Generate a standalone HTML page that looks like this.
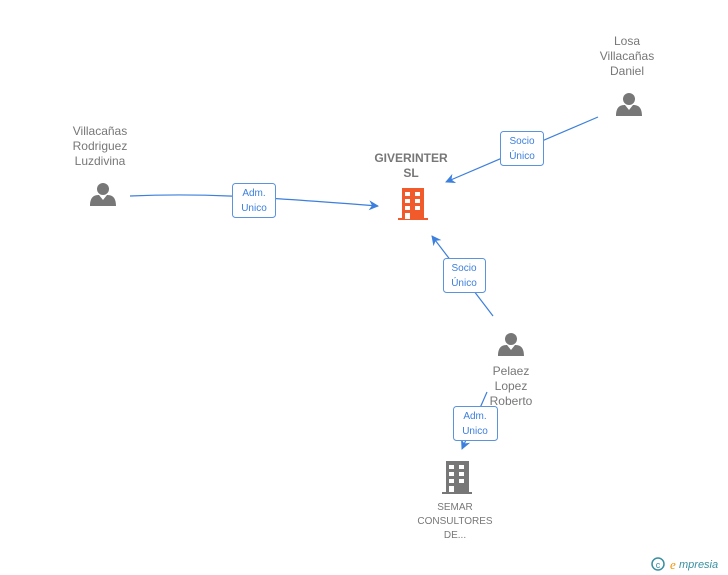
<!DOCTYPE html>
<html><head><style>
body{margin:0;width:728px;height:575px;background:#fff;overflow:hidden;font-family:"Liberation Sans",sans-serif}
.t{position:absolute;color:#777;font-size:12px;text-align:center;line-height:15px}
</style></head><body>
<svg width="728" height="575" style="position:absolute;left:0;top:0">
<defs>
<marker id="a" markerWidth="10" markerHeight="10" refX="9" refY="5" orient="auto" markerUnits="userSpaceOnUse"><path d="M0,0 L10,5 L0,10 L3,5z" fill="#3c7fdc"/></marker>
<g id="p"><circle cx="0" cy="-8" r="6" fill="#777"/><path d="M-13,9 C-13,-1 -8,-2 -4,-2 L0,3 L4,-2 C8,-2 13,-1 13,9z" fill="#777"/></g>
</defs>
<g stroke="#3c7fdc" stroke-width="1.2" fill="none">
<path d="M130,196 C200,193 250,196 378,206" marker-end="url(#a)"/>
<path d="M598,117 L446,182" marker-end="url(#a)"/>
<path d="M493,316 L432,236" marker-end="url(#a)"/>
<path d="M487,392 L462,449" marker-end="url(#a)"/>
</g>
<use href="#p" x="103" y="197"/>
<use href="#p" x="629" y="107"/>
<use href="#p" x="511" y="347"/>
<g fill="#f15a2b"><rect x="402" y="188" width="22" height="31"/><rect x="398" y="218" width="30" height="2"/></g>
<g fill="#fff"><rect x="405" y="192" width="5" height="4"/><rect x="415" y="192" width="5" height="4"/><rect x="405" y="199" width="5" height="4"/><rect x="415" y="199" width="5" height="4"/><rect x="405" y="206" width="5" height="4"/><rect x="415" y="206" width="5" height="4"/><rect x="405" y="213" width="5" height="6"/></g>
<g fill="#777"><rect x="446" y="461" width="23" height="32"/><rect x="442" y="492" width="30" height="2"/></g>
<g fill="#fff"><rect x="449" y="465" width="5" height="4"/><rect x="459" y="465" width="5" height="4"/><rect x="449" y="472" width="5" height="4"/><rect x="459" y="472" width="5" height="4"/><rect x="449" y="479" width="5" height="4"/><rect x="459" y="479" width="5" height="4"/><rect x="449" y="486" width="5" height="6"/></g>
<g fill="#fff" stroke="#5b93dd" stroke-width="1">
<rect x="232.5" y="183.5" width="43" height="34" rx="3"/>
<rect x="500.5" y="131.5" width="43" height="34" rx="3"/>
<rect x="443.5" y="258.5" width="42" height="34" rx="3"/>
<rect x="453.5" y="406.5" width="44" height="34" rx="3"/>
</g>
<g fill="#3c7fdc" font-size="10" font-family="Liberation Sans,sans-serif" text-anchor="middle">
<text x="254" y="196">Adm.</text><text x="254" y="211">Unico</text>
<text x="522" y="144">Socio</text><text x="522" y="159">Único</text>
<text x="464" y="271">Socio</text><text x="464" y="286">Único</text>
<text x="475" y="419">Adm.</text><text x="475" y="434">Unico</text>
</g>
<circle cx="658" cy="564" r="6" fill="none" stroke="#3a8fa0" stroke-width="1.5"/>
<text x="658" y="568" font-size="9" fill="#3a8fa0" text-anchor="middle" font-family="Liberation Sans">c</text>
<text x="670" y="569" font-size="13" fill="#f39200" font-style="italic" font-family="Liberation Serif">e</text>
<text x="679" y="568" font-size="11" fill="#3a8fa0" font-style="italic" font-family="Liberation Sans">mpresia</text>
</svg>
<div class="t" style="left:50px;top:124px;width:100px">Villacañas<br>Rodriguez<br>Luzdivina</div>
<div class="t" style="left:577px;top:34px;width:100px">Losa<br>Villacañas<br>Daniel</div>
<div class="t" style="left:461px;top:364px;width:100px">Pelaez<br>Lopez<br>Roberto</div>
<div class="t" style="left:361px;top:151px;width:100px;font-weight:bold;color:#777">GIVERINTER<br>SL</div>
<div class="t" style="left:405px;top:501px;width:100px;font-size:10px;line-height:14px">SEMAR<br>CONSULTORES<br>DE...</div>
</body></html>
